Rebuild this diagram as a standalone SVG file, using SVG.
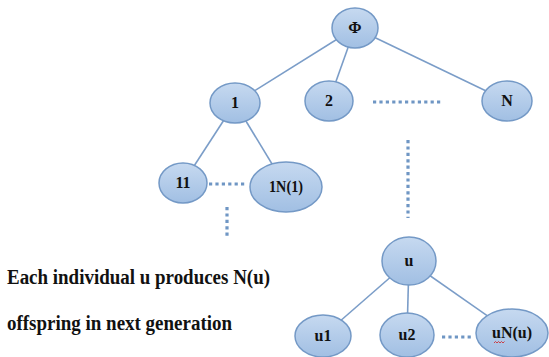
<svg xmlns="http://www.w3.org/2000/svg" width="549" height="357" viewBox="0 0 549 357">
<defs>
<linearGradient id="g" x1="0" y1="0" x2="0" y2="1">
<stop offset="0" stop-color="#c6d9f0"/>
<stop offset="1" stop-color="#a1bfe3"/>
</linearGradient>
<style>
.n ellipse{fill:url(#g);stroke:#7499c6;stroke-width:1.5}
.n text{font-weight:bold;font-size:16px;fill:#111;text-anchor:middle}
.e line{stroke:#7b9dc8;stroke-width:1.6}
.d line{stroke:#6f96c4;stroke-width:3.2;stroke-dasharray:3.2 3.2}
.cap{font-weight:bold;font-size:20px;fill:#111}
</style>
</defs>
<rect width="549" height="357" fill="#fff"/>
<g id="connectors">
<g class="e">
<line x1="355" y1="28" x2="235" y2="103"/>
<line x1="355" y1="28" x2="329" y2="101"/>
<line x1="355" y1="28" x2="507" y2="101"/>
<line x1="235" y1="103" x2="183" y2="183"/>
<line x1="235" y1="103" x2="286" y2="187"/>
<line x1="409" y1="261" x2="323" y2="336"/>
<line x1="409" y1="261" x2="407" y2="335"/>
<line x1="409" y1="261" x2="512" y2="333"/>
</g>
<g class="d">
<line x1="373" y1="102" x2="443" y2="102"/>
<line x1="408" y1="140" x2="408" y2="218"/>
<line x1="209" y1="184" x2="245" y2="184"/>
<line x1="227" y1="207" x2="227" y2="239"/>
<line x1="442" y1="337" x2="471" y2="337"/>
</g>
</g>
<g font-family="Liberation Serif, Times New Roman, DejaVu Serif, serif">
<g id="node-phi" class="n"><ellipse cx="355" cy="28" rx="23" ry="20"/><text x="355" y="33">Φ</text></g>
<g id="node-1" class="n"><ellipse cx="235" cy="103" rx="25" ry="20"/><text x="235" y="108">1</text></g>
<g id="node-2" class="n"><ellipse cx="329" cy="101" rx="24" ry="20"/><text x="329" y="106">2</text></g>
<g id="node-N" class="n"><ellipse cx="507" cy="101" rx="25" ry="20"/><text x="507" y="106">N</text></g>
<g id="node-11" class="n"><ellipse cx="183" cy="183" rx="24" ry="20"/><text x="183" y="188">11</text></g>
<g id="node-1N1" class="n"><ellipse cx="286" cy="187" rx="36" ry="25"/><text x="286" y="192" textLength="34" lengthAdjust="spacingAndGlyphs">1N(1)</text></g>
<g id="node-u" class="n"><ellipse cx="409" cy="261" rx="27" ry="24"/><text x="409" y="266">u</text></g>
<g id="node-u1" class="n"><ellipse cx="323" cy="336" rx="28" ry="21"/><text x="323" y="341">u1</text></g>
<g id="node-u2" class="n"><ellipse cx="407" cy="335" rx="27" ry="22"/><text x="407" y="340">u2</text></g>
<g id="node-uNu" class="n"><ellipse cx="512" cy="333" rx="36" ry="24"/><text x="512" y="338" textLength="40" lengthAdjust="spacingAndGlyphs">uN(u)</text>
<path d="M494 343 l1.5 -1.5 l1.5 1.5 l1.5 -1.5 l1.5 1.5 l1.5 -1.5 l1.5 1.5 l1.5 -1.5" fill="none" stroke="#d02020" stroke-width="0.8"/></g>
<text class="cap" x="7" y="284" textLength="263" lengthAdjust="spacingAndGlyphs">Each individual u produces N(u)</text>
<text class="cap" x="7" y="330" textLength="225" lengthAdjust="spacingAndGlyphs">offspring in next generation</text>
</g>
</svg>
